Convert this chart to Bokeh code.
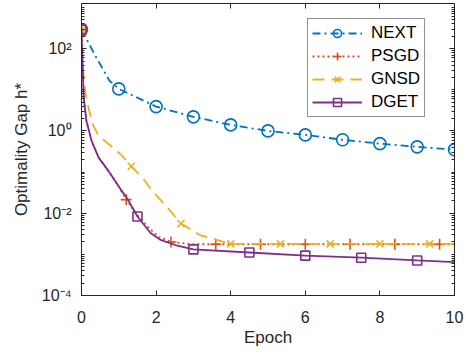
from bokeh.plotting import figure
from bokeh.models import (LogAxis, LinearAxis, FixedTicker, CustomJSTickFormatter,
                          Legend, LegendItem)
from bokeh.embed import file_html
from bokeh.resources import INLINE

# ---------------- data ----------------
next_x = [0, 0.13, 0.4, 0.75, 1, 2, 3, 4, 5, 6, 7, 8, 9, 10]
next_y = [290, 174, 60, 16.6, 10.5, 3.9, 2.2, 1.4, 1.0, 0.80, 0.61, 0.49, 0.41, 0.35]
next_mx = [0, 1, 2, 3, 4, 5, 6, 7, 8, 9, 10]
next_my = [290, 10.5, 3.9, 2.2, 1.4, 1.0, 0.80, 0.61, 0.49, 0.41, 0.35]

psgd_x = [0, 0.02, 0.06, 0.13, 0.27, 0.46, 0.72, 1.0, 1.2, 1.5, 1.77, 2.06, 2.4, 3.0, 10]
psgd_y = [290, 63, 6.5, 1.78, 0.575, 0.224, 0.107, 0.0437, 0.0214, 0.0089, 0.0047,
          0.0027, 0.0020, 0.00176, 0.00176]
psgd_mx = [0, 1.2, 2.4, 3.6, 4.8, 6.0, 7.2, 8.4, 9.6]
psgd_my = [290, 0.0214, 0.0020, 0.00176, 0.00176, 0.00176, 0.00176, 0.00176, 0.00176]

gnsd_x = [0, 0.04, 0.107, 0.19, 0.29, 0.43, 0.6, 0.86, 1.1, 1.333, 1.64, 1.85, 2.06,
          2.33, 2.667, 3.19, 3.51, 4.0, 10]
gnsd_y = [290, 32, 8.3, 3.6, 1.5, 0.85, 0.60, 0.38, 0.245, 0.138, 0.072, 0.040, 0.024,
          0.0129, 0.0056, 0.0029, 0.0024, 0.0018, 0.0018]
gnsd_mx = [0, 1.333, 2.667, 4.0, 5.333, 6.667, 8.0, 9.333]
gnsd_my = [290, 0.138, 0.0056, 0.0018, 0.0018, 0.0018, 0.0018, 0.0018]

dget_x = [0, 0.02, 0.06, 0.13, 0.27, 0.46, 0.72, 1.05, 1.23, 1.5, 1.85, 2.12, 2.57,
          3.0, 4.5, 6.0, 7.5, 9.0, 10]
dget_y = [290, 63, 6.5, 1.78, 0.575, 0.224, 0.107, 0.038, 0.0224, 0.0083, 0.0033,
          0.00224, 0.00162, 0.00132, 0.00111, 0.00093, 0.00083, 0.00071, 0.00065]
dget_mx = [0, 1.5, 3.0, 4.5, 6.0, 7.5, 9.0]
dget_my = [290, 0.0083, 0.00132, 0.00111, 0.00093, 0.00083, 0.00071]

x_ticks = [0, 2, 4, 6, 8, 10]
y_ticks = [1e-4, 1e-2, 1e0, 1e2]
y_tick_labels = ["10\u207b\u2074", "10\u207b\u00b2", "10\u2070", "10\u00b2"]
y_minor = [m * 10.0 ** e for e in range(-4, 4) for m in range(1, 10)]

labels = ["NEXT", "PSGD", "GNSD", "DGET"]
colors = ["#0072BD", "#D95319", "#EDB120", "#7E2F8E"]

# ---------------- figure ----------------
FONT = "Liberation Sans"
TXT = "#262626"

p = figure(width=466, height=356, x_range=(0, 10), y_range=(1e-4, 1250),
           y_axis_type="log", output_backend="svg", toolbar_location=None,
           min_border_left=81, min_border_right=12, min_border_top=3,
           min_border_bottom=61)
p.background_fill_color = "white"
p.border_fill_color = "white"
p.outline_line_color = TXT
p.xgrid.visible = False
p.ygrid.visible = False

def style_axis(ax):
    ax.axis_line_color = TXT
    ax.axis_line_width = 1
    ax.major_tick_line_color = TXT
    ax.minor_tick_line_color = TXT
    ax.major_tick_in = 5
    ax.major_tick_out = 0
    ax.minor_tick_in = 3
    ax.minor_tick_out = 0
    ax.major_label_text_font = FONT
    ax.major_label_text_color = TXT
    ax.major_label_text_font_size = "16px"
    ax.axis_label_text_font = FONT
    ax.axis_label_text_color = TXT
    ax.axis_label_text_font_style = "normal"
    ax.axis_label_text_font_size = "17px"

xa = p.xaxis[0]
xa.ticker = FixedTicker(ticks=x_ticks)
xa.axis_label = "Epoch"
style_axis(xa)
xa.minor_tick_line_color = None
xa.major_label_standoff = 15
xa.axis_label_standoff = 2

ya = p.yaxis[0]
ya.ticker = FixedTicker(ticks=y_ticks, minor_ticks=y_minor)
ya.formatter = CustomJSTickFormatter(args=dict(vals=y_ticks, labs=y_tick_labels), code="""
    let best = 0, bd = 1e9;
    for (let i = 0; i < vals.length; i++) {
        const d = Math.abs(Math.log10(vals[i]) - Math.log10(tick));
        if (d < bd) { bd = d; best = i; }
    }
    return labs[best];
""")
ya.axis_label = "Optimality Gap h*"
style_axis(ya)
ya.major_label_standoff = 10
ya.axis_label_standoff = 8

blank = CustomJSTickFormatter(code="return '';")

top = LinearAxis(ticker=FixedTicker(ticks=x_ticks), formatter=blank)
style_axis(top)
top.minor_tick_line_color = None
top.major_label_text_font_size = "1px"
top.major_label_standoff = 0
top.axis_label_standoff = 0
p.add_layout(top, "above")

right = LogAxis(ticker=FixedTicker(ticks=y_ticks, minor_ticks=y_minor), formatter=blank)
style_axis(right)
right.major_label_text_font_size = "1px"
right.major_label_standoff = 0
right.axis_label_standoff = 0
p.add_layout(right, "right")

LW = 1.8
items = []

r1 = p.line(next_x, next_y, color=colors[0], line_width=LW, line_dash="8 4 2 4")
m1 = p.scatter(next_mx, next_my, marker="circle", size=12, line_color=colors[0],
               fill_color=None, line_width=1.6)
items.append(LegendItem(label=labels[0], renderers=[r1, m1]))

r2 = p.line(psgd_x, psgd_y, color=colors[1], line_width=LW, line_dash="2 3")
m2 = p.scatter(psgd_mx, psgd_my, marker="cross", size=11, line_color=colors[1],
               line_width=1.6)
items.append(LegendItem(label=labels[1], renderers=[r2, m2]))

r3 = p.line(gnsd_x, gnsd_y, color=colors[2], line_width=LW, line_dash="12 7")
m3 = p.scatter(gnsd_mx, gnsd_my, marker="x", size=10, line_color=colors[2],
               line_width=1.6)
items.append(LegendItem(label=labels[2], renderers=[r3, m3]))

r4 = p.line(dget_x, dget_y, color=colors[3], line_width=LW)
m4 = p.scatter(dget_mx, dget_my, marker="square", size=9, line_color=colors[3],
               fill_color=None, line_width=1.6)
items.append(LegendItem(label=labels[3], renderers=[r4, m4]))

legend = Legend(items=items, location=(226, 178), padding=4,
                spacing=3, glyph_width=50, glyph_height=20, label_height=20,
                label_width=20, label_standoff=9, label_text_font=FONT,
                label_text_font_size="17px", label_text_color="black",
                border_line_color=TXT, border_line_width=1,
                background_fill_color="white", background_fill_alpha=1)
p.add_layout(legend)

open("out.html", "w").write(file_html(p, INLINE))
